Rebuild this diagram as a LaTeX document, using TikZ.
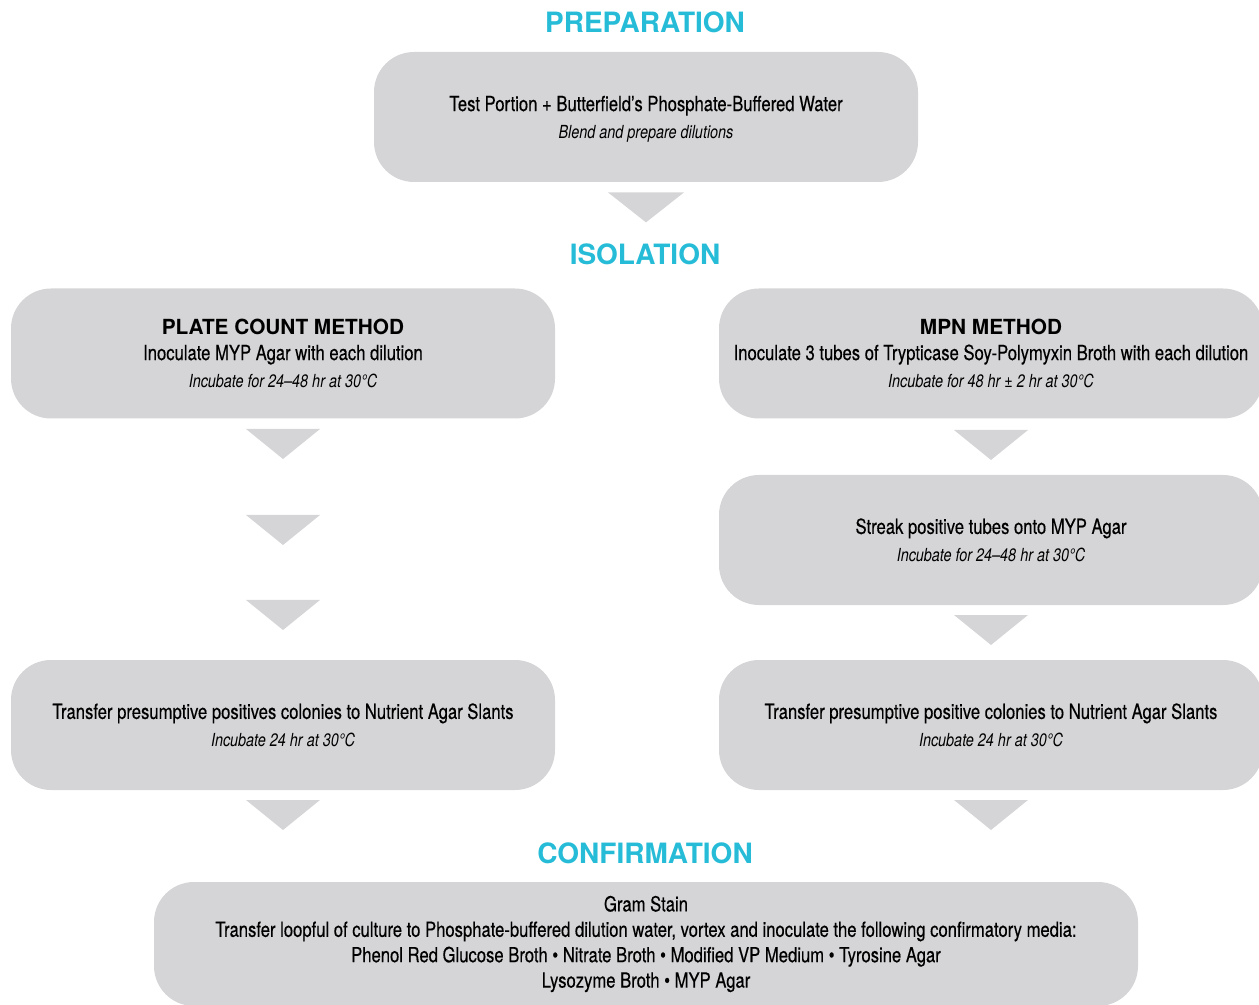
\documentclass[tikz,border=0pt]{standalone}
\usepackage{fontspec}
\setmainfont{TeX Gyre Heros}[FakeStretch=0.8, UprightFeatures={FakeBold=0.35}]
\newfontfamily\headfont{TeX Gyre Heros}
\usetikzlibrary{positioning, calc}
\definecolor{boxgray}{RGB}{213,213,215}
\definecolor{headcyan}{RGB}{38,188,215}
\newcommand{\incub}[1]{{\fontsize{9}{11}\selectfont\itshape #1}}

\begin{document}
\begin{tikzpicture}[
  x=0.5pt, y=-0.5pt,
  every node/.style={font=\fontsize{10.4}{12.7}\selectfont},
  title/.style={font=\headfont\bfseries\fontsize{14}{16}\selectfont, text=headcyan},
  box/.style={fill=boxgray, rounded corners=20pt, minimum width=272pt, minimum height=65pt,
              align=center, inner sep=0pt},
  tri/.style={fill=boxgray}
]
\clip (0,0) rectangle (1259,1005);
\useasboundingbox (0,0) rectangle (1259,1005);

%% Preparation
\node[title] (tprep) at (645,22) {PREPARATION};
\node[box] (prep) at (646,117)
  {\\[-3pt]Test Portion + Butterfield’s Phosphate-Buffered Water\\[1pt]
   \incub{Blend and prepare dilutions}};

%% Isolation
\node[title] (tiso) at (645,254) {ISOLATION};

% plate count column
\node[box] (plate) at (283,353.5)
  {{\headfont\bfseries\fontsize{10.4}{12}\selectfont PLATE COUNT METHOD}\\
   Inoculate MYP Agar with each dilution\\[1pt]
   \incub{Incubate for 24–48 hr at 30°C}};
\node[box] (plateslant) at (283,725)
  {Transfer presumptive positives colonies to Nutrient Agar Slants\\[1pt]
   \incub{Incubate 24 hr at 30°C}};

% MPN column
\node[box] (mpn) at (991,353.5)
  {{\headfont\bfseries\fontsize{10.4}{12}\selectfont MPN METHOD}\\
   Inoculate 3 tubes of Trypticase Soy-Polymyxin Broth with each dilution\\[1pt]
   \incub{Incubate for 48 hr ± 2 hr at 30°C}};
\node[box] (streak) at (991,540)
  {Streak positive tubes onto MYP Agar\\[1pt]
   \incub{Incubate for 24–48 hr at 30°C}};
\node[box] (mpnslant) at (991,725)
  {Transfer presumptive positive colonies to Nutrient Agar Slants\\[1pt]
   \incub{Incubate 24 hr at 30°C}};

%% Confirmation
\node[title] (tconf) at (645,853) {CONFIRMATION};
\node[box, minimum width=492pt, minimum height=62pt] (conf) at (646,944)
  {Gram Stain\\
   Transfer loopful of culture to Phosphate-buffered dilution water, vortex and inoculate the following confirmatory media:\\
   Phenol Red Glucose Broth • Nitrate Broth • Modified VP Medium • Tyrosine Agar\\
   Lysozyme Broth • MYP Agar};

%% ---- Triangles ----
\fill[tri] ($(prep.south)+(0,10)$) ++(-38,0) -- ++(76,0) -- ++(-38,30) -- cycle;

% left column
\foreach \ty in {429,515,600,800}
  \fill[tri] ($(plate.south |- 0,\ty)$) ++(-37,0) -- ++(74,0) -- ++(-37,30) -- cycle;

% right column
\foreach \ty in {430,615,800}
  \fill[tri] ($(mpn.south |- 0,\ty)$) ++(-37,0) -- ++(74,0) -- ++(-37,30) -- cycle;

\end{tikzpicture}
\end{document}
